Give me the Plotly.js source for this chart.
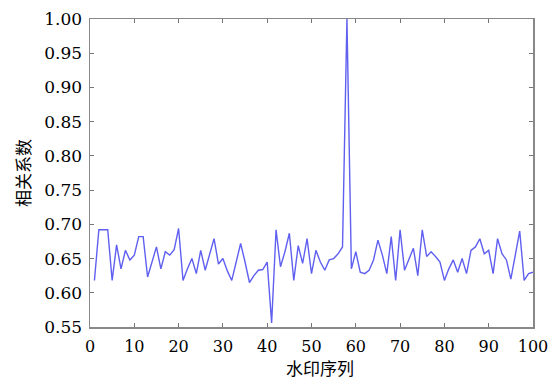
<!DOCTYPE html>
<html>
<head>
<meta charset="utf-8">
<script src="https://cdn.plot.ly/plotly-3.0.1.min.js"></script>
<style>html,body{margin:0;padding:0;background:#fff}#chart{width:554px;height:381px}</style>
</head>
<body>
<div id="chart"></div>
<script>
// 水印序列 (watermark index) and 相关系数 (correlation coefficient)
const xIndex = [];
for (let i = 1; i <= 100; i++) xIndex.push(i);
const corr = [
  0.618, 0.692, 0.692, 0.692, 0.618, 0.670, 0.635, 0.662, 0.648, 0.655,
  0.682, 0.682, 0.623, 0.645, 0.667, 0.635, 0.660, 0.655, 0.663, 0.694,
  0.618, 0.635, 0.650, 0.628, 0.662, 0.633, 0.655, 0.679, 0.642, 0.650,
  0.632, 0.618, 0.645, 0.672, 0.645, 0.615, 0.625, 0.633, 0.634, 0.645,
  0.556, 0.692, 0.638, 0.660, 0.687, 0.618, 0.669, 0.643, 0.679, 0.628,
  0.662, 0.645, 0.633, 0.648, 0.650, 0.657, 0.667, 1.000, 0.635, 0.660,
  0.630, 0.628, 0.633, 0.648, 0.677, 0.655, 0.628, 0.682, 0.618, 0.692,
  0.633, 0.650, 0.665, 0.625, 0.692, 0.653, 0.660, 0.653, 0.645, 0.618,
  0.635, 0.648, 0.630, 0.650, 0.628, 0.662, 0.667, 0.679, 0.657, 0.662,
  0.628, 0.679, 0.657, 0.648, 0.620, 0.655, 0.690, 0.618, 0.628, 0.630
];
const xTicks = [0, 10, 20, 30, 40, 50, 60, 70, 80, 90, 100];
const yTicks = [0.55, 0.60, 0.65, 0.70, 0.75, 0.80, 0.85, 0.90, 0.95, 1.00];
const xTitle = '水印序列';
const yTitle = '相关系数';

const xTickFont = {family: 'DejaVu Serif', size: 16, color: '#000'};
const yTickFont = {family: 'DejaVu Serif', size: 17, color: '#000'};
const titleFont = {family: 'Noto Sans CJK SC', size: 17, color: '#000'};

Plotly.newPlot('chart', [{
  x: xIndex,
  y: corr,
  type: 'scatter',
  mode: 'lines',
  line: {color: 'rgb(95,95,240)', width: 1.4},
  hoverinfo: 'skip'
}], {
  width: 554,
  height: 381,
  margin: {l: 90, r: 21, t: 19, b: 54},
  paper_bgcolor: '#fff',
  plot_bgcolor: '#fff',
  showlegend: false,
  xaxis: {
    range: [0, 100],
    tickmode: 'array',
    tickvals: xTicks,
    ticktext: xTicks.map(String),
    ticks: 'inside',
    ticklen: 4,
    tickcolor: '#777',
    showline: true,
    linecolor: '#888',
    linewidth: 1.5,
    mirror: 'ticks',
    showgrid: false,
    zeroline: false,
    tickfont: xTickFont,
    ticklabelstandoff: 4
  },
  yaxis: {
    range: [0.55, 1.00],
    tickmode: 'array',
    tickvals: yTicks,
    ticktext: yTicks.map(v => v.toFixed(2)),
    ticks: 'inside',
    ticklen: 4,
    tickcolor: '#777',
    showline: true,
    linecolor: '#888',
    linewidth: 1.5,
    mirror: 'ticks',
    showgrid: false,
    zeroline: false,
    tickfont: yTickFont,
    ticklabelstandoff: 3
  },
  annotations: [
    {text: xTitle, font: titleFont, showarrow: false, xref: 'paper', yref: 'paper',
     x: 0.5 + (320 - 311.5) / 443, y: -(367 - 327) / 308, xanchor: 'center', yanchor: 'middle'},
    {text: yTitle, font: titleFont, showarrow: false, textangle: -90, xref: 'paper', yref: 'paper',
     x: -(90 - 22) / 443, y: 0.5, xanchor: 'center', yanchor: 'middle'}
  ]
}, {displayModeBar: false, staticPlot: true});
</script>
</body>
</html>
